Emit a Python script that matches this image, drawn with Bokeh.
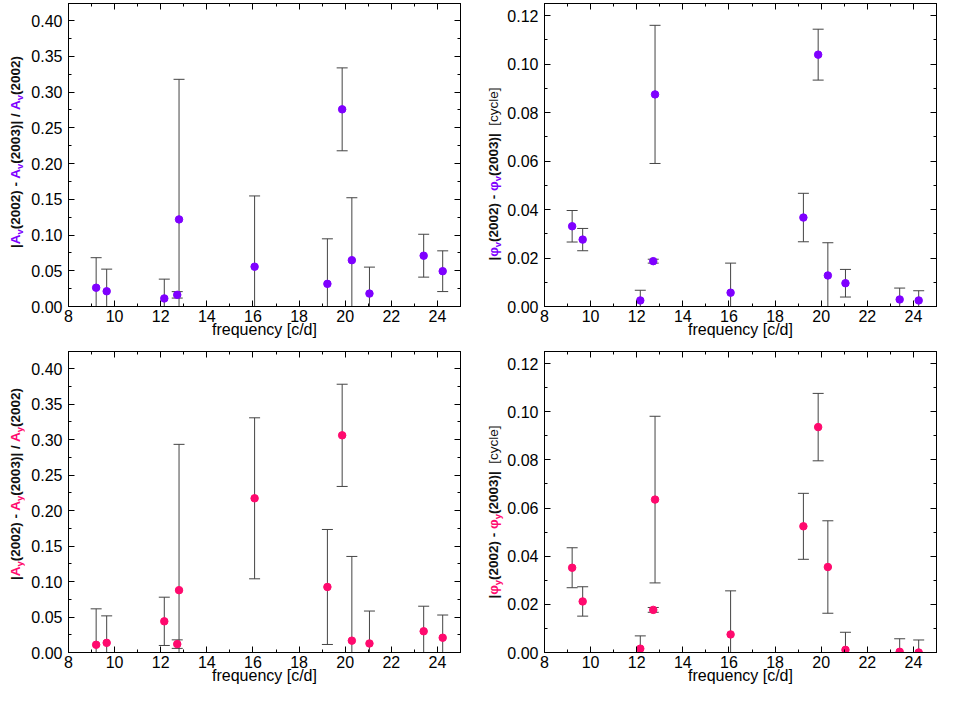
from bokeh.plotting import figure
from bokeh.layouts import column, row
from bokeh.models import (Range1d, LinearAxis, SingleIntervalTicker, Div,
                          PrintfTickFormatter, CustomJSTickFormatter)
from bokeh.embed import file_html
from bokeh.resources import INLINE

# ---------------- data ----------------
freq = [9.199, 9.656, 12.154, 12.716, 12.794, 16.071, 19.228, 19.868, 20.288, 21.052, 23.403, 24.228]

dA_v = [0.0263, 0.0213, 0.0113, 0.0163, 0.1219, 0.0557, 0.0317, 0.2759, 0.0648, 0.0181, 0.0711, 0.0494]
dA_v_err = [0.042, 0.031, 0.027, 0.0045, 0.196, 0.099, 0.063, 0.058, 0.0874, 0.037, 0.030, 0.0285]

dphi_v = [0.0331, 0.0276, 0.0025, 0.0187, 0.0875, 0.0057, 0.0367, 0.1039, 0.0128, 0.0096, 0.0029, 0.0025]
dphi_v_err = [0.0065, 0.0046, 0.0042, 0.0008, 0.0285, 0.0122, 0.010, 0.0105, 0.0135, 0.0057, 0.0047, 0.0040]

dA_y = [0.0109, 0.0136, 0.0439, 0.0118, 0.0878, 0.2172, 0.0923, 0.3059, 0.0167, 0.0127, 0.0299, 0.0208]
dA_y_err = [0.0506, 0.038, 0.034, 0.006, 0.2054, 0.1134, 0.081, 0.072, 0.1186, 0.0457, 0.0353, 0.032]

dphi_y = [0.0352, 0.0212, 0.0016, 0.0177, 0.0635, 0.0075, 0.0524, 0.0936, 0.0355, 0.0011, 0.0003, 0.0]
dphi_y_err = [0.0083, 0.0061, 0.0053, 0.001, 0.0346, 0.0181, 0.0137, 0.014, 0.0192, 0.0073, 0.0054, 0.0052]

x_label = "frequency [c/d]"

VIOLET = "#7F00FF"
PINK = "#FF0A6E"
ERR = "#444444"
FONT = "Liberation Sans"


def ylabel_div(width, height, cx, cy, html):
    style_outer = f"position:relative;width:{width}px;height:{height}px;overflow:visible;"
    style_inner = ("position:absolute;left:%dpx;top:%dpx;transform:translate(-50%%,-50%%) rotate(-90deg);"
                   "white-space:nowrap;font-family:'Liberation Sans',Arial,sans-serif;font-size:13.5px;"
                   "font-weight:bold;color:#111111;line-height:1;") % (cx, cy)
    return Div(text=f'<div style="{style_outer}"><div style="{style_inner}">{html}</div></div>',
               width=width, height=height, margin=0)


def sym(s, sub, color):
    return (f'<span style="color:{color}">{s}<sub style="font-size:70%;vertical-align:-0.28em;'
            f'line-height:0">{sub}</sub></span>')


def amp_label(sub, color):
    a = sym("A", sub, color)
    return f"|{a}(2002) - {a}(2003)| / {a}(2002)"


def phase_label(sub, color):
    f = sym("φ", sub, color)
    return f'|{f}(2002) - {f}(2003)|&nbsp;&nbsp;<span style="font-weight:normal">[cycle]</span>'


def make_panel(vals, errs, color, ymax, ymajor, width, height, bl, br, bt, bb):
    p = figure(width=width, height=height, output_backend="svg", toolbar_location=None,
               x_range=Range1d(8, 25), y_range=Range1d(0, ymax),
               min_border_left=bl, min_border_right=br,
               min_border_top=bt, min_border_bottom=bb)
    p.xgrid.visible = False
    p.ygrid.visible = False
    p.outline_line_color = "black"
    p.outline_line_width = 1

    p.xaxis.ticker = SingleIntervalTicker(interval=2, num_minor_ticks=2)
    p.yaxis.ticker = SingleIntervalTicker(interval=ymajor, num_minor_ticks=2)
    p.yaxis.formatter = PrintfTickFormatter(format="%.2f")
    for ax in (p.xaxis[0], p.yaxis[0]):
        ax.major_tick_in = 6
        ax.major_tick_out = 0
        ax.minor_tick_in = 3
        ax.minor_tick_out = 0
        ax.axis_line_color = "black"
        ax.major_tick_line_color = "black"
        ax.minor_tick_line_color = "black"
        ax.major_label_text_font = FONT
        ax.major_label_text_font_size = "16px"
        ax.major_label_text_color = "black"
    p.yaxis.major_label_standoff = 6
    p.xaxis.major_label_standoff = 3
    p.xaxis.axis_label = x_label
    p.xaxis.axis_label_text_font = FONT
    p.xaxis.axis_label_text_font_size = "16px"
    p.xaxis.axis_label_text_font_style = "normal"
    p.xaxis.axis_label_text_color = "black"
    p.xaxis.axis_label_standoff = -4

    blank = CustomJSTickFormatter(code="return ''")
    for loc, tk in (("right", SingleIntervalTicker(interval=ymajor, num_minor_ticks=2)),
                    ("above", SingleIntervalTicker(interval=2, num_minor_ticks=2))):
        ax = LinearAxis(ticker=tk, formatter=blank)
        ax.major_tick_in = 6
        ax.major_tick_out = 0
        ax.minor_tick_in = 3
        ax.minor_tick_out = 0
        ax.major_label_standoff = 0
        ax.major_label_text_font_size = "1px"
        ax.axis_line_color = "black"
        p.add_layout(ax, loc)

    lo = [v - e for v, e in zip(vals, errs)]
    hi = [v + e for v, e in zip(vals, errs)]
    p.segment(x0=freq, y0=lo, x1=freq, y1=hi, line_color=ERR, line_width=1)
    p.scatter(x=freq, y=hi, marker="dash", size=11, line_color=ERR, line_width=1)
    p.scatter(x=freq, y=lo, marker="dash", size=11, line_color=ERR, line_width=1)
    p.scatter(x=freq, y=vals, marker="circle", size=7.5, fill_color=color, line_color=color)
    return p


H1, H2 = 348, 344
p1 = make_panel(dA_v, dA_v_err, VIOLET, 0.424, 0.05, 444, H1, 44, 8, 3, 42)
p2 = make_panel(dphi_v, dphi_v_err, VIOLET, 0.125, 0.02, 434, H1, 40, 2, 3, 42)
p3 = make_panel(dA_y, dA_y_err, PINK, 0.424, 0.05, 444, H2, 44, 8, 3, 40)
p4 = make_panel(dphi_y, dphi_y_err, PINK, 0.125, 0.02, 434, H2, 40, 2, 3, 40)

d1 = ylabel_div(24, H1, 16, 152, amp_label("v", VIOLET))
d2 = ylabel_div(36, H1, 26, 174, phase_label("v", VIOLET))
d3 = ylabel_div(24, H2, 16, 136, amp_label("y", PINK))
d4 = ylabel_div(36, H2, 26, 164, phase_label("y", PINK))

layout = column(row(d1, p1, d2, p2), row(d3, p3, d4, p4))
open("out.html", "w").write(file_html(layout, INLINE))
